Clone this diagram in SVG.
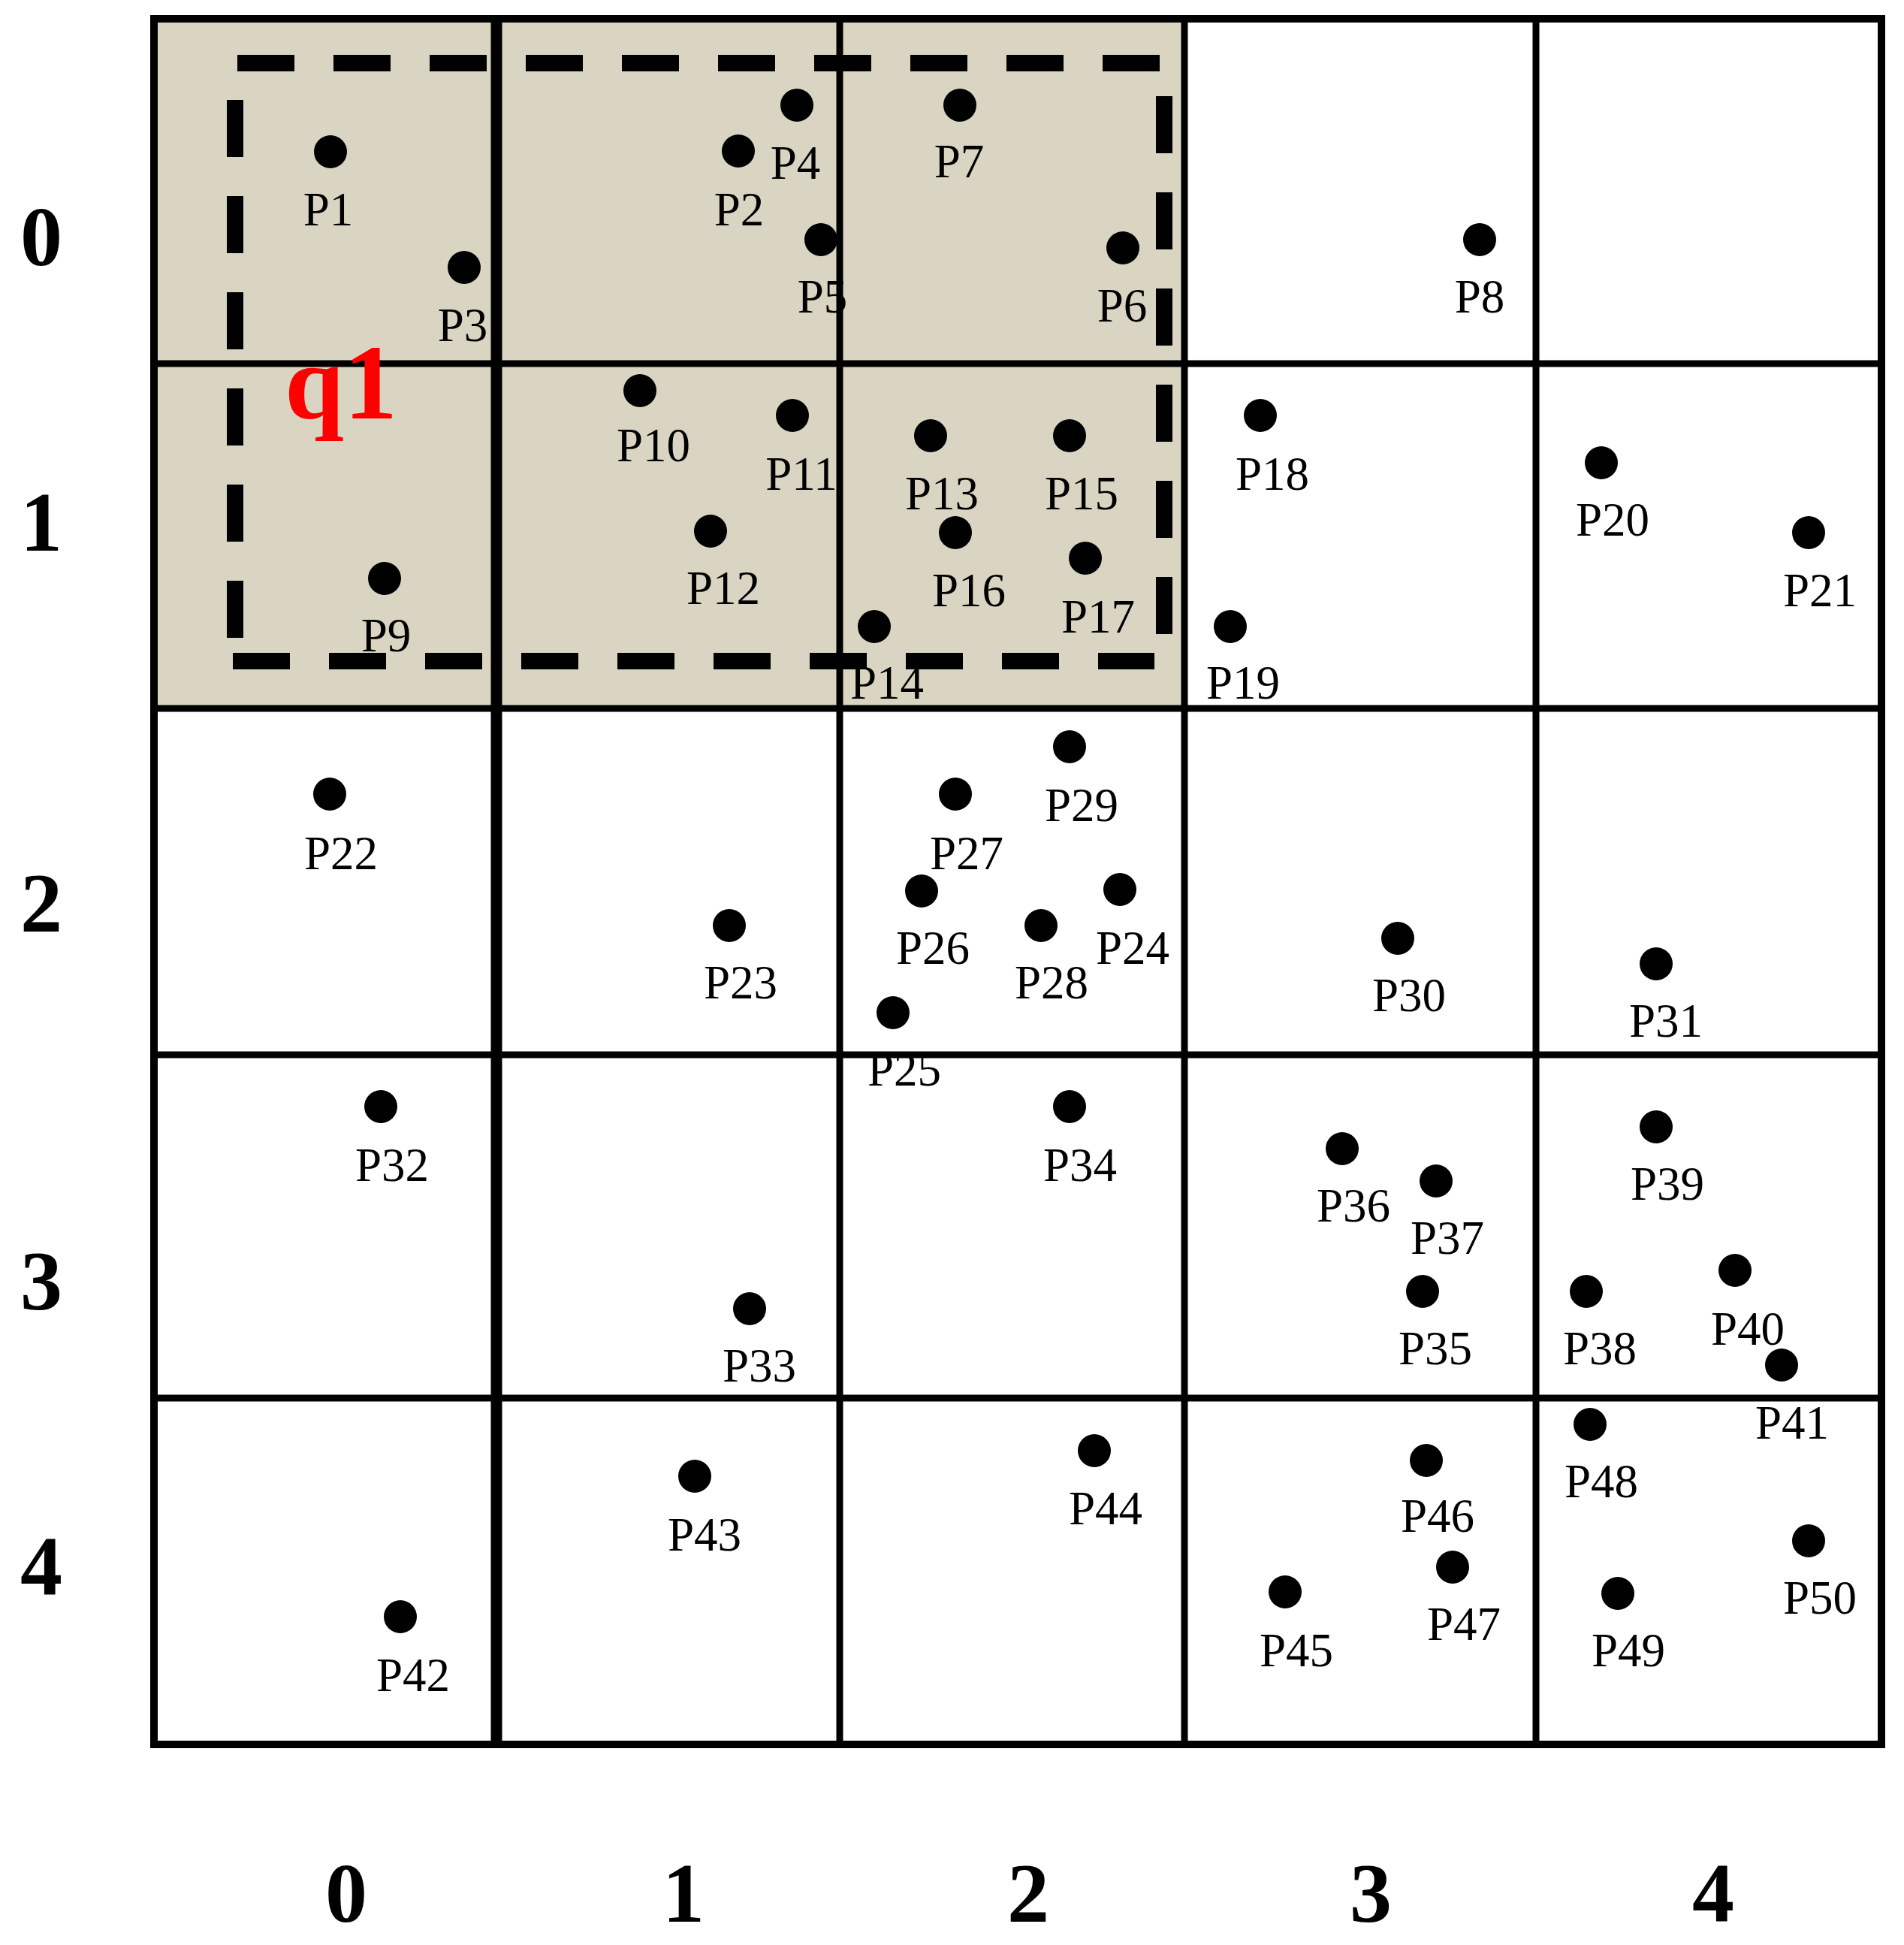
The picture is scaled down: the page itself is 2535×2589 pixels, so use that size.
<svg xmlns="http://www.w3.org/2000/svg" width="2535" height="2589" viewBox="0 0 2535 2589">
<style>
.dot{fill:#000}
.lbl{font-family:"Liberation Serif","Times New Roman",serif;font-size:63px;text-anchor:middle;fill:#000}
.axis{font-family:"Liberation Serif","Times New Roman",serif;font-weight:bold;font-size:112px;text-anchor:middle;fill:#000}
.gl{stroke:#000;stroke-width:9;fill:none}
.dash{stroke:#000;stroke-width:22;stroke-dasharray:76 52;fill:none}
</style>
<rect width="2535" height="2589" fill="#fff"/>
<g id="grid">
<rect x="205" y="25" width="1372" height="918" fill="#D9D5C2"/>
<line class="gl" x1="1118" y1="25" x2="1118" y2="2322"/>
<line class="gl" x1="1577" y1="25" x2="1577" y2="2322"/>
<line class="gl" x1="2045" y1="25" x2="2045" y2="2322"/>
<line class="gl" x1="661" y1="25" x2="661" y2="2322" style="stroke-width:15"/>
<line class="gl" x1="205" y1="484" x2="2505" y2="484"/>
<line class="gl" x1="205" y1="943" x2="2505" y2="943"/>
<line class="gl" x1="205" y1="1404" x2="2505" y2="1404"/>
<line class="gl" x1="205" y1="1861" x2="2505" y2="1861"/>
<rect x="205" y="25" width="2300" height="2297" fill="none" stroke="#000" stroke-width="10"/>
</g>
<g id="query-q1">
<line class="dash" x1="316" y1="84" x2="1545" y2="84"/>
<line class="dash" x1="1550" y1="128" x2="1550" y2="845"/>
<line class="dash" x1="310" y1="880" x2="1537" y2="880"/>
<line class="dash" x1="313" y1="133" x2="313" y2="850"/>
<text x="454" y="557" style="font-family:'Liberation Serif','Times New Roman',serif;font-weight:bold;font-size:142px;text-anchor:middle;fill:#FF0000">q1</text>
</g>
<g id="connectors"/>
<g id="P1"><circle class="dot" cx="440" cy="202" r="22"/><text class="lbl" x="437" y="300">P1</text></g>
<g id="P2"><circle class="dot" cx="983" cy="201" r="22"/><text class="lbl" x="984" y="300">P2</text></g>
<g id="P3"><circle class="dot" cx="618" cy="356" r="22"/><text class="lbl" x="616" y="454">P3</text></g>
<g id="P4"><circle class="dot" cx="1061" cy="140" r="22"/><text class="lbl" x="1059" y="238">P4</text></g>
<g id="P5"><circle class="dot" cx="1093" cy="319" r="22"/><text class="lbl" x="1095" y="416">P5</text></g>
<g id="P6"><circle class="dot" cx="1495" cy="330" r="22"/><text class="lbl" x="1494" y="428">P6</text></g>
<g id="P7"><circle class="dot" cx="1278" cy="140" r="22"/><text class="lbl" x="1277" y="236">P7</text></g>
<g id="P8"><circle class="dot" cx="1970" cy="319" r="22"/><text class="lbl" x="1970" y="416">P8</text></g>
<g id="P9"><circle class="dot" cx="512" cy="770" r="22"/><text class="lbl" x="514" y="867">P9</text></g>
<g id="P10"><circle class="dot" cx="852" cy="520" r="22"/><text class="lbl" x="870" y="614">P10</text></g>
<g id="P11"><circle class="dot" cx="1055" cy="553" r="22"/><text class="lbl" x="1067" y="652">P11</text></g>
<g id="P12"><circle class="dot" cx="946" cy="707" r="22"/><text class="lbl" x="963" y="804">P12</text></g>
<g id="P13"><circle class="dot" cx="1239" cy="580" r="22"/><text class="lbl" x="1254" y="678">P13</text></g>
<g id="P14"><circle class="dot" cx="1164" cy="834" r="22"/><text class="lbl" x="1181" y="930">P14</text></g>
<g id="P15"><circle class="dot" cx="1424" cy="580" r="22"/><text class="lbl" x="1440" y="678">P15</text></g>
<g id="P16"><circle class="dot" cx="1272" cy="709" r="22"/><text class="lbl" x="1290" y="807">P16</text></g>
<g id="P17"><circle class="dot" cx="1445" cy="743" r="22"/><text class="lbl" x="1462" y="842">P17</text></g>
<g id="P18"><circle class="dot" cx="1678" cy="553" r="22"/><text class="lbl" x="1694" y="652">P18</text></g>
<g id="P19"><circle class="dot" cx="1638" cy="834" r="22"/><text class="lbl" x="1655" y="930">P19</text></g>
<g id="P20"><circle class="dot" cx="2132" cy="616" r="22"/><text class="lbl" x="2147" y="713">P20</text></g>
<g id="P21"><circle class="dot" cx="2408" cy="709" r="22"/><text class="lbl" x="2423" y="807">P21</text></g>
<g id="P22"><circle class="dot" cx="439" cy="1057" r="22"/><text class="lbl" x="454" y="1157">P22</text></g>
<g id="P23"><circle class="dot" cx="971" cy="1232" r="22"/><text class="lbl" x="986" y="1329">P23</text></g>
<g id="P24"><circle class="dot" cx="1491" cy="1184" r="22"/><text class="lbl" x="1508" y="1283">P24</text></g>
<g id="P25"><circle class="dot" cx="1189" cy="1348" r="22"/><text class="lbl" x="1204" y="1445">P25</text></g>
<g id="P26"><circle class="dot" cx="1227" cy="1186" r="22"/><text class="lbl" x="1242" y="1283">P26</text></g>
<g id="P27"><circle class="dot" cx="1272" cy="1057" r="22"/><text class="lbl" x="1287" y="1157">P27</text></g>
<g id="P28"><circle class="dot" cx="1386" cy="1232" r="22"/><text class="lbl" x="1400" y="1329">P28</text></g>
<g id="P29"><circle class="dot" cx="1424" cy="994" r="22"/><text class="lbl" x="1440" y="1093">P29</text></g>
<g id="P30"><circle class="dot" cx="1861" cy="1249" r="22"/><text class="lbl" x="1876" y="1346">P30</text></g>
<g id="P31"><circle class="dot" cx="2205" cy="1283" r="22"/><text class="lbl" x="2218" y="1380">P31</text></g>
<g id="P32"><circle class="dot" cx="507" cy="1473" r="22"/><text class="lbl" x="522" y="1572">P32</text></g>
<g id="P33"><circle class="dot" cx="998" cy="1742" r="22"/><text class="lbl" x="1011" y="1839">P33</text></g>
<g id="P34"><circle class="dot" cx="1424" cy="1473" r="22"/><text class="lbl" x="1438" y="1572">P34</text></g>
<g id="P35"><circle class="dot" cx="1894" cy="1719" r="22"/><text class="lbl" x="1911" y="1816">P35</text></g>
<g id="P36"><circle class="dot" cx="1787" cy="1529" r="22"/><text class="lbl" x="1802" y="1626">P36</text></g>
<g id="P37"><circle class="dot" cx="1912" cy="1572" r="22"/><text class="lbl" x="1927" y="1669">P37</text></g>
<g id="P38"><circle class="dot" cx="2112" cy="1719" r="22"/><text class="lbl" x="2130" y="1816">P38</text></g>
<g id="P39"><circle class="dot" cx="2205" cy="1500" r="22"/><text class="lbl" x="2220" y="1597">P39</text></g>
<g id="P40"><circle class="dot" cx="2310" cy="1691" r="22"/><text class="lbl" x="2327" y="1790">P40</text></g>
<g id="P41"><circle class="dot" cx="2372" cy="1817" r="22"/><text class="lbl" x="2386" y="1915">P41</text></g>
<g id="P42"><circle class="dot" cx="533" cy="2152" r="22"/><text class="lbl" x="550" y="2251">P42</text></g>
<g id="P43"><circle class="dot" cx="925" cy="1965" r="22"/><text class="lbl" x="938" y="2064">P43</text></g>
<g id="P44"><circle class="dot" cx="1457" cy="1931" r="22"/><text class="lbl" x="1472" y="2029">P44</text></g>
<g id="P45"><circle class="dot" cx="1711" cy="2119" r="22"/><text class="lbl" x="1726" y="2218">P45</text></g>
<g id="P46"><circle class="dot" cx="1899" cy="1944" r="22"/><text class="lbl" x="1914" y="2039">P46</text></g>
<g id="P47"><circle class="dot" cx="1934" cy="2086" r="22"/><text class="lbl" x="1949" y="2183">P47</text></g>
<g id="P48"><circle class="dot" cx="2117" cy="1896" r="22"/><text class="lbl" x="2132" y="1993">P48</text></g>
<g id="P49"><circle class="dot" cx="2154" cy="2121" r="22"/><text class="lbl" x="2168" y="2218">P49</text></g>
<g id="P50"><circle class="dot" cx="2408" cy="2051" r="22"/><text class="lbl" x="2423" y="2148">P50</text></g>
<g id="row-axis">
<text class="axis" x="55" y="353">0</text>
<text class="axis" x="55" y="733">1</text>
<text class="axis" x="55" y="1240">2</text>
<text class="axis" x="55" y="1743">3</text>
<text class="axis" x="55" y="2123">4</text>
</g>
<g id="col-axis">
<text class="axis" x="461" y="2558">0</text>
<text class="axis" x="910" y="2558">1</text>
<text class="axis" x="1369" y="2558">2</text>
<text class="axis" x="1825" y="2558">3</text>
<text class="axis" x="2281" y="2558">4</text>
</g>
</svg>
